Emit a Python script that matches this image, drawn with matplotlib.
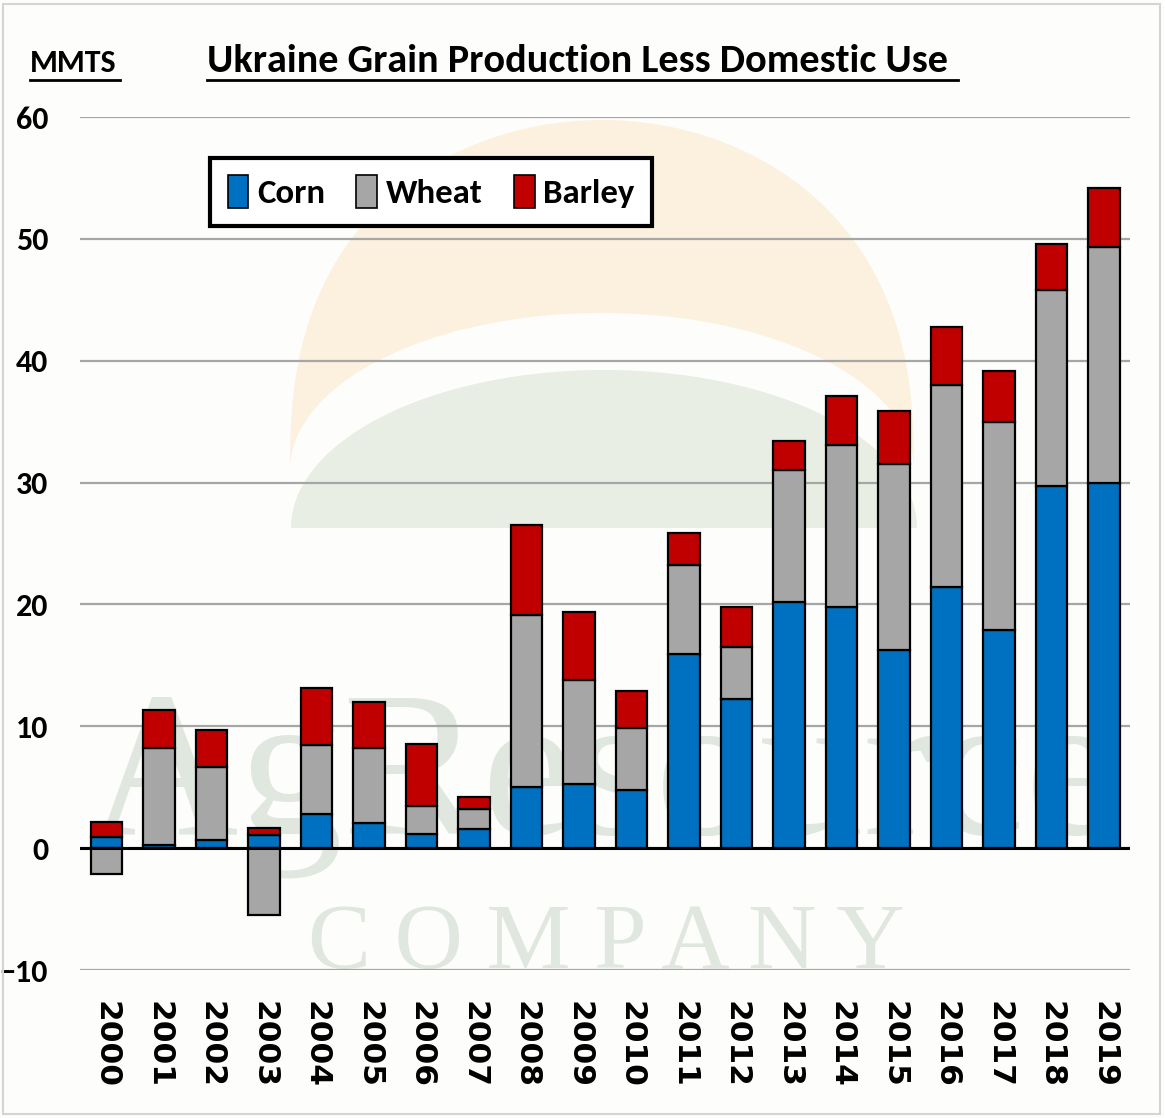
import numpy as np
import matplotlib
matplotlib.use('Agg')
import matplotlib.pyplot as plt
from matplotlib.patches import Polygon, Rectangle, Patch
from matplotlib.font_manager import FontProperties
from matplotlib.transforms import Affine2D
from matplotlib.lines import Line2D

# Ukraine grain production less domestic use, MMT
years = [str(y) for y in range(2000, 2020)]
corn = [0.9, 0.25, 0.7, 1.05, 2.8, 2.05, 1.15, 1.6, 5.0, 5.3,
        4.8, 15.9, 12.2, 20.2, 19.8, 16.3, 21.4, 17.9, 29.7, 30.0]
wheat = [-2.1, 8.0, 5.95, -5.5, 5.7, 6.2, 2.3, 1.6, 14.1, 8.5,
         5.05, 7.35, 4.3, 10.8, 13.3, 15.2, 16.6, 17.1, 16.1, 19.3]
barley = [1.25, 3.05, 3.05, 0.6, 4.65, 3.75, 5.1, 1.0, 7.45, 5.6,
          3.05, 2.6, 3.3, 2.4, 4.0, 4.35, 4.8, 4.15, 3.75, 4.85]
yticks = [-10, 0, 10, 20, 30, 40, 50, 60]

W, H = 1165, 1118
NARROW = ['Carlito', 'Liberation Sans', 'DejaVu Sans']
SERIF = ['Liberation Serif', 'DejaVu Serif']

fig = plt.figure(figsize=(W / 100, H / 100), dpi=100)
fig.patch.set_facecolor('#fdfdfb')
ax = fig.add_axes([80 / W, 1 - 970 / H, 1050 / W, 853 / H])
ax.set_facecolor('none')

# pixel coords (origin top-left) -> display
px = Affine2D().scale(1 / 100, -1 / 100).translate(0, H / 100) + fig.dpi_scale_trans

# watermark logo: sun crescent, green hill, company name
t = np.linspace(0, np.pi, 120)
outer = np.column_stack([602 - 312 * np.cos(t), 470 - 350 * np.sin(t) ** 0.8])
inner = np.column_stack([602 - 312 * np.cos(t[::-1]), 470 - 157 * np.sin(t[::-1])])
ax.add_patch(Polygon(np.vstack([outer, inner]), closed=True, facecolor='#fcf1df',
                     edgecolor='none', transform=px, zorder=0))
hill = np.column_stack([604 - 313 * np.cos(t), 528 - 158 * np.sin(t)])
ax.add_patch(Polygon(hill, closed=True, facecolor='#e8eee3', edgecolor='none',
                     transform=px, zorder=0))

ax.text(88, 833, 'AgResource', transform=px, fontsize=150, family=SERIF,
        color='#dfe7df', ha='left', va='baseline', zorder=0, clip_on=True)
ax.text(606, 968, 'C O M P A N Y', transform=px, fontsize=68, family=SERIF,
        color='#dfe7df', ha='center', va='baseline', zorder=0, clip_on=True)

x = np.arange(len(years))
corn_a = np.array(corn)
wheat_a = np.array(wheat)
wheat_bottom = np.where(wheat_a >= 0, corn_a, 0)
barley_bottom = corn_a + np.clip(wheat_a, 0, None)

bw = 0.6
kw = dict(width=bw, edgecolor='black', linewidth=1.6, zorder=3)
ax.bar(x, corn, color='#0070C0', **kw)
ax.bar(x, wheat, bottom=wheat_bottom, color='#A6A6A6', **kw)
ax.bar(x, barley, bottom=barley_bottom, color='#C00000', **kw)

ax.set_xlim(-0.5, len(years) - 0.5)
ax.set_ylim(-10, 60)
ax.set_yticks(yticks)
ax.yaxis.grid(True, color='#a6a6a6', linewidth=1.6, zorder=1)
ax.set_axisbelow(True)
ax.axhline(0, color='black', linewidth=2.2, zorder=4)
for s in ax.spines.values():
    s.set_visible(False)

ax.set_xticks(x)
ax.set_xticklabels(years, rotation=-90, fontsize=22.5, fontweight='bold',
                   family='DejaVu Sans')
ax.tick_params(axis='x', length=0, pad=22)
ax.tick_params(axis='y', length=0, pad=23)
for lab in ax.get_yticklabels():
    lab.set_fontsize(23)
    lab.set_fontweight('bold')
    lab.set_family(NARROW)

handles = [Patch(facecolor=c, edgecolor='black', linewidth=1.2, label=n)
           for c, n in [('#0070C0', 'Corn'), ('#A6A6A6', 'Wheat'), ('#C00000', 'Barley')]]
leg = ax.legend(handles=handles, loc='upper left', bbox_to_anchor=(0.124, 0.952),
                borderaxespad=0, ncol=3, frameon=True, fancybox=False, framealpha=1,
                handlelength=0.6, handleheight=1.05, handletextpad=0.25,
                columnspacing=0.9, borderpad=0.5,
                prop=FontProperties(family=NARROW, weight='bold', size=25))
leg.get_frame().set_edgecolor('black')
leg.get_frame().set_linewidth(3)
leg.set_zorder(6)

# title and unit label, underlined
fig.text(207 / W, 1 - 72 / H, 'Ukraine Grain Production Less Domestic Use',
         fontsize=29, fontweight='bold', family=NARROW, ha='left', va='baseline')
fig.text(30 / W, 1 - 72 / H, 'MMTS', fontsize=23, fontweight='bold',
         family=NARROW, ha='left', va='baseline')
fig.add_artist(Line2D([207 / W, 958 / W], [1 - 80 / H] * 2, color='black', linewidth=2))
fig.add_artist(Line2D([30 / W, 120 / W], [1 - 80 / H] * 2, color='black', linewidth=2))

# outer frame
fig.add_artist(Rectangle((3 / W, 4 / H), 1157 / W, 1110 / H, transform=fig.transFigure,
                         facecolor='none', edgecolor='#d4d4d4', linewidth=1.5))

fig.savefig('out.png', dpi=100, facecolor=fig.get_facecolor())
